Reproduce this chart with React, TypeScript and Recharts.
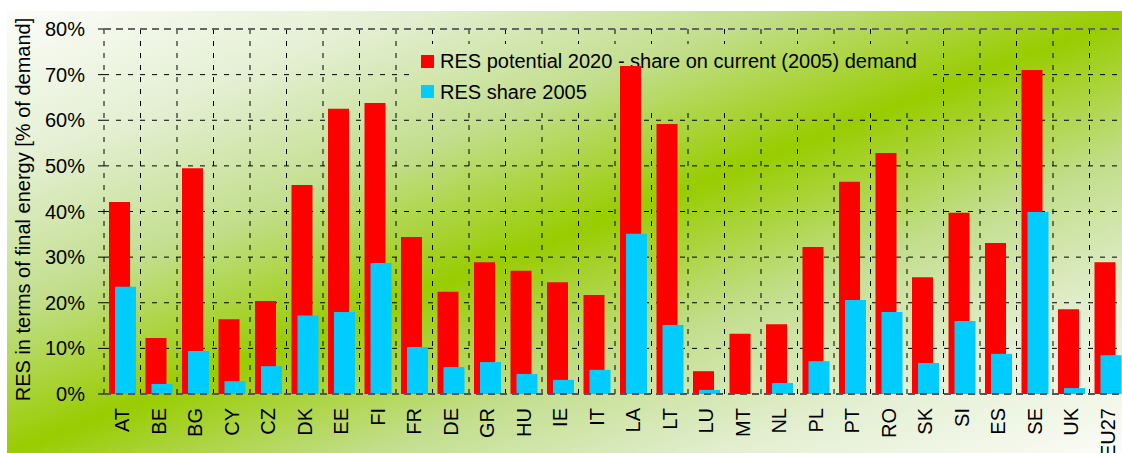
import React from 'react';
import { BarChart, Bar, XAxis, YAxis, CartesianGrid, ReferenceLine } from 'recharts';

const CATEGORIES = ['AT','BE','BG','CY','CZ','DK','EE','FI','FR','DE','GR','HU','IE','IT','LA','LT','LU','MT','NL','PL','PT','RO','SK','SI','ES','SE','UK','EU27'];
const POTENTIAL_2020 = [42.1,12.3,49.5,16.4,20.4,45.8,62.5,63.8,34.4,22.4,28.9,27.0,24.5,21.7,71.9,59.2,5.0,13.2,15.3,32.2,46.5,52.8,25.6,39.7,33.1,71.0,18.6,28.9];
const SHARE_2005 = [23.5,2.2,9.4,2.8,6.1,17.2,18.0,28.7,10.3,5.9,7.0,4.4,3.1,5.3,35.1,15.1,0.9,0,2.4,7.2,20.6,18.0,6.8,16.0,8.8,39.9,1.3,8.5];
const Y_TICKS = [0,10,20,30,40,50,60,70,80];
const SERIES = [
  { key: 'potential', name: 'RES potential 2020 - share on current (2005) demand', color: '#ff0000' },
  { key: 'share', name: 'RES share 2005', color: '#00ccff' },
];
const Y_LABEL = 'RES in terms of final energy [% of demand]';

const data = CATEGORIES.map((c, i) => ({ cat: c, potential: POTENTIAL_2020[i], share: SHARE_2005[i] }));

const FONT = "'Liberation Sans', Arial, Helvetica, sans-serif";
const BG_W = 1133;
const BG_H = 442;
const MARGIN = { top: 18, right: 14, bottom: 9, left: 0 };
const GRADIENT = 'linear-gradient(to bottom right, #fcfdf9 0%, #e4efd2 18%, #c2de8c 34%, #99cc00 50%, #c2de8c 66%, #e4efd2 82%, #fcfdf9 100%)';

const XTick = (props: any) => {
  const { x, y, payload } = props;
  return (
    <text x={x} y={y} transform={`rotate(-90 ${x} ${y})`} textAnchor="end" dy="0.36em" fontSize={20} fill="#000" fontFamily={FONT}>
      {payload.value}
    </text>
  );
};

const YLabel = (props: any) => {
  const vb = props.viewBox || { x: 0, y: 0, width: 0, height: 0 };
  const cx = vb.x + 16;
  const cy = vb.y + vb.height / 2 - 2;
  return (
    <text x={cx} y={cy} transform={`rotate(-90 ${cx} ${cy})`} textAnchor="middle" dy="0.36em" fontSize={20} fill="#000" fontFamily={FONT}>
      {Y_LABEL}
    </text>
  );
};

const LEG_L = 406;
const LEG_T = 33;

const layer: React.CSSProperties = { position: 'absolute', left: 0, top: 0 };

export default function App() {
  return (
    <div style={{ position: 'fixed', left: 0, top: 0, width: 1122, height: 453, background: '#fff', overflow: 'hidden', fontFamily: FONT }}>
      <div style={{ position: 'absolute', left: 7, top: 11, width: BG_W, height: BG_H, background: GRADIENT }}>
        {/* Layer 1: grid, axes, labels */}
        <div style={layer}>
          <BarChart width={BG_W} height={BG_H} data={data} margin={MARGIN} barSize={21} barGap={-15}>
            <CartesianGrid
              stroke="#000"
              strokeDasharray="5 7"
              verticalCoordinatesGenerator={({ offset }: any) =>
                Array.from({ length: CATEGORIES.length + 1 }, (_, i) => offset.left + (i * offset.width) / CATEGORIES.length)
              }
            />
            <XAxis dataKey="cat" interval={0} height={50} tickLine={false} axisLine={false} tickSize={6} tickMargin={8} tick={<XTick />} />
            <YAxis
              width={97}
              domain={[0, 80]}
              ticks={Y_TICKS}
              tickFormatter={(v: number) => `${v}%`}
              axisLine={false}
              tickLine={{ stroke: '#000' }}
              tickSize={6}
              tickMargin={13}
              tick={{ fontSize: 20, fill: '#000', fontFamily: FONT }}
              label={<YLabel />}
            />
            {SERIES.map((s) => (
              <Bar key={s.key} dataKey={s.key} fill="transparent" isAnimationActive={false} />
            ))}
            <ReferenceLine y={80} stroke="#666" strokeWidth={2} strokeDasharray="7 5" />
          </BarChart>
        </div>
        {/* Layer 2: legend box hiding the grid behind it */}
        <div
          style={{
            position: 'absolute',
            left: LEG_L,
            top: LEG_T,
            width: 520,
            height: 62,
            background: GRADIENT,
            backgroundSize: `${BG_W}px ${BG_H}px`,
            backgroundPosition: `-${LEG_L}px -${LEG_T}px`,
            backgroundRepeat: 'no-repeat',
          }}
        >
          {SERIES.map((s, i) => (
            <div
              key={s.key}
              style={{
                position: 'absolute',
                left: 8,
                top: 7 + i * 30.5,
                height: 20,
                display: 'flex',
                alignItems: 'center',
                fontSize: 20,
                lineHeight: '20px',
                color: '#000',
                whiteSpace: 'nowrap',
              }}
            >
              <span style={{ display: 'inline-block', width: 13, height: 13, background: s.color, marginRight: 6 }} />
              <span>{s.name}</span>
            </div>
          ))}
        </div>
        {/* Layer 3: bars on top */}
        <div style={layer}>
          <BarChart width={BG_W} height={BG_H} data={data} margin={MARGIN} barSize={21} barGap={-15}>
            <XAxis dataKey="cat" interval={0} height={50} tick={false} tickLine={false} axisLine={false} />
            <YAxis width={97} domain={[0, 80]} ticks={Y_TICKS} tick={false} tickLine={false} axisLine={false} />
            {SERIES.map((s) => (
              <Bar key={s.key} dataKey={s.key} name={s.name} fill={s.color} isAnimationActive={false} />
            ))}
            <ReferenceLine y={0} stroke="#555" strokeWidth={2} strokeDasharray="7 5" />
          </BarChart>
        </div>
      </div>
    </div>
  );
}
